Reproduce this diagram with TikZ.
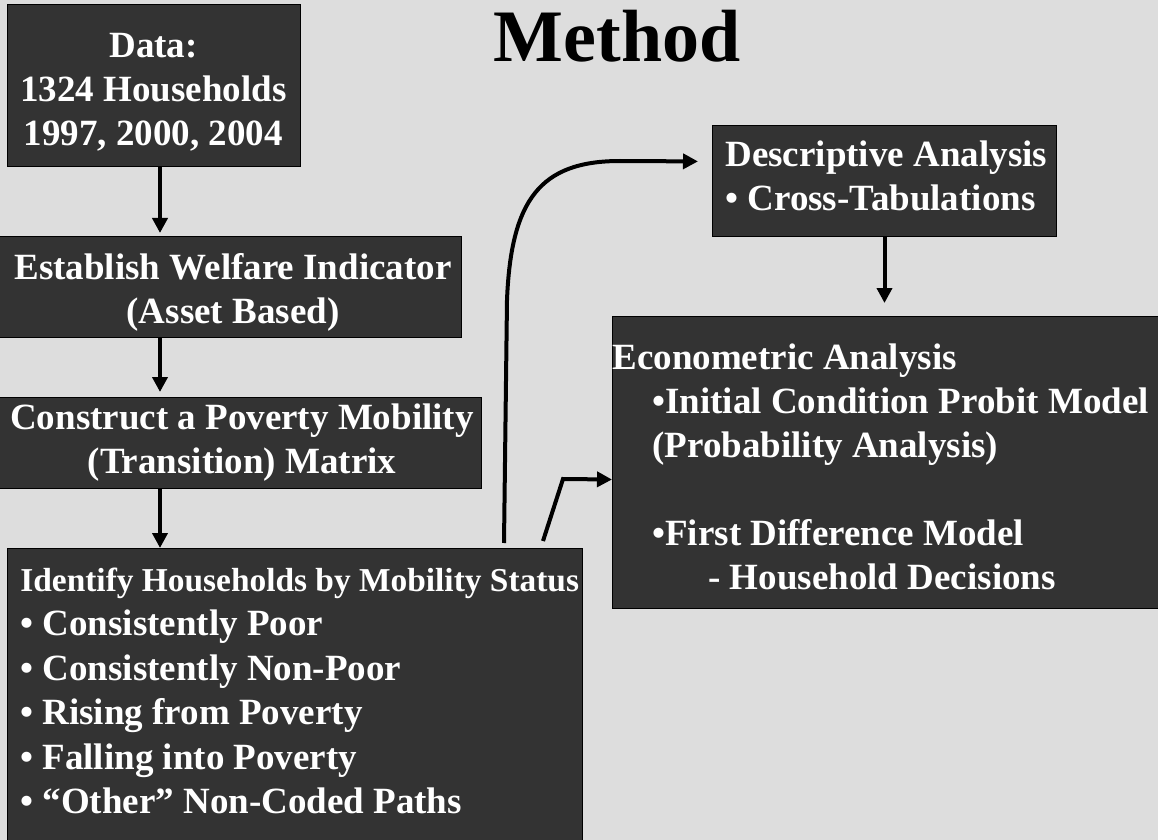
\documentclass[tikz,border=0pt]{standalone}
\usepackage{fontspec}
\setmainfont{Liberation Serif}
\usetikzlibrary{arrows.meta}
\usetikzlibrary{calc}
\definecolor{slidegray}{HTML}{DDDDDD}
\definecolor{panelgray}{HTML}{333333}
\tikzset{
	panel/.style = {
		rectangle,
		draw=black,
		line width=0.5pt,
		fill=panelgray,
		inner sep=0pt,
		anchor=north west
	},
	panel_text/.style = {
		inner sep=0pt,
		text=white,
		font=\bfseries\fontsize{18.5}{22}\selectfont
	},
	panel_center/.style = {
		panel_text,
		align=center,
		anchor=north
	},
	panel_left/.style = {
		panel_text,
		align=left,
		anchor=north west
	},
	flow/.style = {
		line width=2pt,
		-{Triangle[length=7.5pt,width=7.5pt]}
	},
}

\begin{document}
\begin{tikzpicture}[x=0.5pt,y=-0.5pt]
\fill[slidegray, use as bounding box] (0,0) rectangle (1158,840);
\node[font=\bfseries\fontsize{37}{44}\selectfont, anchor=base] (title) at (617,62) {Method};

\node[panel, minimum width=146.5pt, minimum height=81pt] (data) at (7,4) {};
\node[panel, minimum width=231pt, minimum height=50.5pt] (welfare) at (-1,236) {};
\node[panel, minimum width=241pt, minimum height=45.5pt] (transit) at (-1,397) {};
\node[panel, minimum width=287.5pt, minimum height=148pt] (status) at (7,548) {};
\node[panel, minimum width=172pt, minimum height=55.5pt] (descr) at (712,125) {};
\node[panel, minimum width=275pt, minimum height=146pt] (econ) at (612,316) {};

\node[panel_center] (data_txt) at (153.5,32.5) {Data:\\1324 Households\\1997, 2000, 2004};
\node[panel_center] (welfare_txt) at (233,253) {Establish Welfare Indicator\\(Asset Based)};
\node[panel_center] (transit_txt) at (242,403) {Construct a Poverty Mobility\\(Transition) Matrix};
\node[panel_left, font=\bfseries\fontsize{18.5}{22.25}\selectfont] (status_txt) at (20,567.5)
	{{\fontsize{16.7}{22.25}\selectfont Identify Households by Mobility Status}\\
	• Consistently Poor\\
	• Consistently Non-Poor\\
	• Rising from Poverty\\
	• Falling into Poverty\\
	• “Other” Non-Coded Paths};
\node[panel_left] (descr_txt) at (725,140) {Descriptive Analysis\\• Cross-Tabulations};
\node[panel_left] (econ_txt) at (612,343)
	{Econometric Analysis\\
	\hspace{20pt}•Initial Condition Probit Model\\
	\hspace{20pt}(Probability Analysis)\\[22pt]
	\hspace{20pt}•First Difference Model\\
	\hspace{48pt}- Household Decisions};

\coordinate (spine) at (160,0);
\draw[flow, shorten >=1.5pt] (spine |- data.south) -- (spine |- welfare.north);
\draw[flow, shorten >=2.5pt] (spine |- welfare.south) -- (spine |- transit.north);
\draw[flow] (spine |- transit.south) -- (spine |- status.north);
\draw[flow, shorten >=6.5pt] (descr.south) -- (econ.north -| descr.south);
\draw[flow, shorten >=7pt] ($(status.north east)+(-79,-5)$) -- (507,300)
	.. controls (511,200) and (540,161) .. (620,161) -- ([yshift=9.75pt]descr.west);
\draw[flow] ($(status.north east)+(-40,-7)$) -- ++(20,-62) -- ([yshift=-8.5pt]econ.west);
\end{tikzpicture}
\end{document}
